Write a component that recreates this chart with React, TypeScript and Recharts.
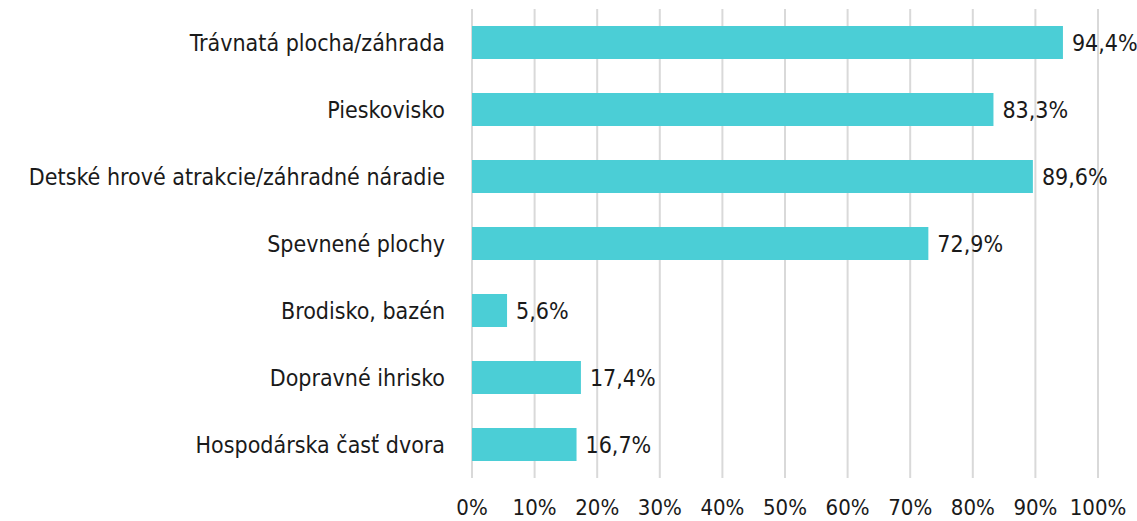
import React from "react";
import { BarChart, Bar, XAxis, YAxis, CartesianGrid, LabelList } from "recharts";

const categories = [
  "Trávnatá plocha/záhrada",
  "Pieskovisko",
  "Detské hrové atrakcie/záhradné náradie",
  "Spevnené plochy",
  "Brodisko, bazén",
  "Dopravné ihrisko",
  "Hospodárska časť dvora",
];
const values = [94.4, 83.3, 89.6, 72.9, 5.6, 17.4, 16.7];
const xTicks = [0, 10, 20, 30, 40, 50, 60, 70, 80, 90, 100];

const data = categories.map((name, i) => ({ name, value: values[i] }));

const FONT = "'DejaVu Sans Condensed', Roboto, sans-serif";
const fmt = (v: number) => v.toFixed(1).replace(".", ",") + "%";

const YTick = (props: any) => {
  const { x, y, payload } = props;
  return (
    <text x={x - 19} y={y} dy="0.35em" textAnchor="end" fontFamily={FONT} fontSize={23} fill="#1a1a1a">
      {payload.value}
    </text>
  );
};

const XTick = (props: any) => {
  const { x, y, payload } = props;
  return (
    <text x={x} y={y} dy={23} dominantBaseline="middle" textAnchor="middle" fontFamily={FONT} fontSize={22} fill="#1a1a1a">
      {payload.value}%
    </text>
  );
};

export default function App() {
  return (
    <div style={{ position: "absolute", left: 0, top: 0, width: 1137, height: 521, background: "#fff" }}>
      <BarChart
        width={1137}
        height={521}
        data={data}
        layout="vertical"
        margin={{ top: 9, right: 39, bottom: 0, left: 0 }}
      >
        <CartesianGrid horizontal={false} stroke="#d9d9d9" strokeWidth={2} />
        <XAxis
          type="number"
          dataKey="value"
          domain={[0, 100]}
          ticks={xTicks}
          axisLine={false}
          tickLine={false}
          height={43}
          tick={<XTick />}
          interval={0}
        />
        <YAxis
          type="category"
          dataKey="name"
          width={472}
          axisLine={false}
          tickLine={false}
          tick={<YTick />}
          interval={0}
        />
        <Bar dataKey="value" fill="#4BCED6" barSize={33} isAnimationActive={false}>
          <LabelList
            dataKey="value"
            position="right"
            offset={9}
            formatter={(v: any) => fmt(Number(v))}
            style={{ fontFamily: FONT, fontSize: 23, fill: "#1a1a1a" }}
          />
        </Bar>
      </BarChart>
    </div>
  );
}
